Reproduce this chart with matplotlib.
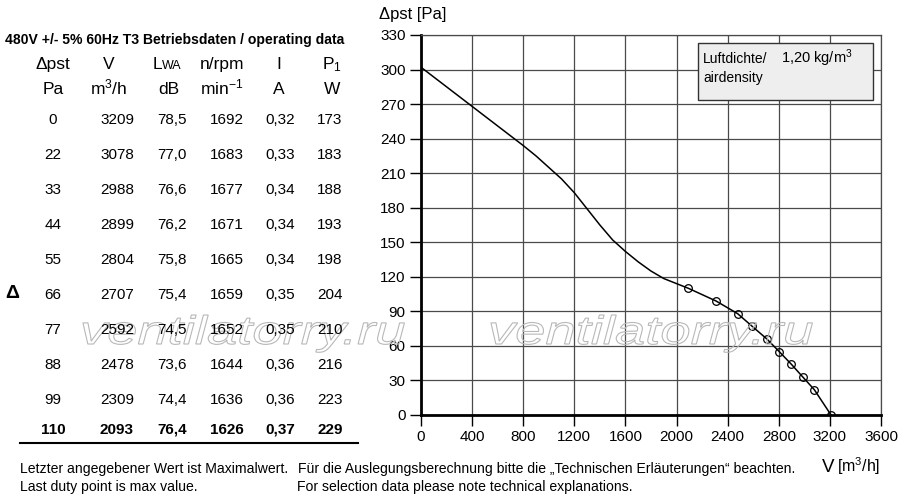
import matplotlib
matplotlib.use('Agg')
import matplotlib.pyplot as plt
from matplotlib.textpath import TextPath
from matplotlib.patches import PathPatch, Rectangle
from matplotlib.font_manager import FontProperties
from matplotlib.transforms import Affine2D
from matplotlib.lines import Line2D

plt.rcParams['font.family'] = ['Liberation Sans', 'DejaVu Sans']
plt.rcParams['mathtext.fontset'] = 'custom'
plt.rcParams['mathtext.rm'] = 'Liberation Sans'
plt.rcParams['mathtext.it'] = 'Liberation Sans:italic'
plt.rcParams['mathtext.bf'] = 'Liberation Sans:bold'

# operating data table
dp = [0, 22, 33, 44, 55, 66, 77, 88, 99, 110]
flow = [3209, 3078, 2988, 2899, 2804, 2707, 2592, 2478, 2309, 2093]
lwa = ['78,5', '77,0', '76,6', '76,2', '75,8', '75,4', '74,5', '73,6', '74,4', '76,4']
rpm = [1692, 1683, 1677, 1671, 1665, 1659, 1652, 1644, 1636, 1626]
amps = ['0,32', '0,33', '0,34', '0,34', '0,34', '0,35', '0,35', '0,36', '0,36', '0,37']
power = [173, 183, 188, 193, 198, 204, 210, 216, 223, 229]

# fan curve (left part) + the duty points
curve_v = [0, 400, 800, 900, 1000, 1100, 1200, 1300, 1400, 1500, 1600, 1700, 1800, 1900,
           2093, 2309, 2478, 2592, 2707, 2804, 2899, 2988, 3078, 3209]
curve_p = [302, 268, 234, 225, 215, 205, 193, 179, 165, 152, 142, 133, 125, 118.5,
           110, 99, 88, 77, 66, 55, 44, 33, 22, 0]

W, H = 900, 500


def fx(x):
    return x / W


def fy(y):
    return 1 - y / H


fig = plt.figure(figsize=(9, 5), dpi=100)

ax = fig.add_axes([421 / W, 85 / H, 460 / W, 380 / H])
ax.set_xlim(0, 3600)
ax.set_ylim(0, 330)
ax.set_xticks(range(0, 3601, 400))
ax.set_yticks(range(0, 331, 30))
ax.set_axisbelow(True)
ax.grid(True, color='#4a4a4a', lw=0.9)
for s in ['top', 'right']:
    ax.spines[s].set_color('#4a4a4a')
    ax.spines[s].set_linewidth(0.9)
for s in ['left', 'bottom']:
    ax.spines[s].set_linewidth(2)
ax.tick_params(direction='out', length=8, width=1, labelsize=11, pad=3)

ax.plot(curve_v, curve_p, color='k', lw=1.1, zorder=3)
ax.plot(flow, dp, 'o', mfc='none', mec='k', ms=5.5, mew=0.9, zorder=4)

# axis titles
fig.text(fx(379), fy(15), 'Δpst [Pa]', fontsize=12, ha='left', va='center')
fig.text(fx(822), fy(472), 'V', fontsize=13.5, ha='left', va='baseline')
fig.text(fx(837), fy(472), '[m$^3$/h]', fontsize=11.5, ha='left', va='baseline')

# air density box
fig.add_artist(Rectangle((fx(698), fy(100)), 175 / W, 57 / H, transform=fig.transFigure,
                         facecolor='#eeeeee', edgecolor='#333333', lw=1, zorder=2))
fig.text(fx(703), fy(63), 'Luftdichte/', fontsize=10, ha='left', va='baseline', zorder=3)
fig.text(fx(781), fy(63), '1,20 kg/m$^3$', fontsize=10.5, ha='left', va='baseline', zorder=3)
fig.text(fx(703), fy(82), 'airdensity', fontsize=10, ha='left', va='baseline', zorder=3)

# table
fig.text(fx(5), fy(44), '480V +/- 5% 60Hz T3 Betriebsdaten / operating data',
         fontsize=10.1, fontweight='bold', ha='left', va='baseline')
head_x = [53, 109, 169, 222, 279, 332]
fig.text(fx(head_x[0]), fy(69), 'Δpst', fontsize=12.5, ha='center', va='baseline')
fig.text(fx(head_x[1]), fy(69), 'V', fontsize=12.5, ha='center', va='baseline')
fig.text(fx(153), fy(69), 'L', fontsize=12.5, ha='left', va='baseline')
fig.text(fx(162), fy(69), 'WA', fontsize=9, ha='left', va='baseline')
fig.text(fx(head_x[3]), fy(69), 'n/rpm', fontsize=12.5, ha='center', va='baseline')
fig.text(fx(head_x[4]), fy(69), 'I', fontsize=12.5, ha='center', va='baseline')
fig.text(fx(head_x[5]), fy(69), 'P$_1$', fontsize=12.5, ha='center', va='baseline')
units = ['Pa', 'm$^3$/h', 'dB', 'min$^{-1}$', 'A', 'W']
for x, u in zip(head_x, units):
    fig.text(fx(x), fy(94), u, fontsize=12.5, ha='center', va='baseline')

col_x = [53, 117, 172, 227, 280, 330]
for i in range(len(dp)):
    y = 119.5 + 35.1 * i if i < 9 else 430
    bold = 'bold' if i == len(dp) - 1 else 'normal'
    row = [str(dp[i]), str(flow[i]), lwa[i], str(rpm[i]), amps[i], str(power[i])]
    for x, t in zip(col_x, row):
        fig.text(fx(x), fy(y), t, fontsize=11, fontweight=bold, ha='center', va='center')

fig.text(fx(12), fy(293), 'Δ', fontsize=14, fontweight='bold', ha='center', va='center')
fig.add_artist(Line2D([fx(20), fx(358)], [fy(443), fy(443)], transform=fig.transFigure,
                      color='k', lw=1.5))

# footnotes
fig.text(fx(20), fy(473), 'Letzter angegebener Wert ist Maximalwert.', fontsize=10.1,
         ha='left', va='baseline')
fig.text(fx(20), fy(491), 'Last duty point is max value.', fontsize=10.1,
         ha='left', va='baseline')
fig.text(fx(298), fy(473),
         'Für die Auslegungsberechnung bitte die \u201eTechnischen Erläuterungen\u201c beachten.',
         fontsize=10.1, ha='left', va='baseline')
fig.text(fx(297), fy(491), 'For selection data please note technical explanations.',
         fontsize=10.1, ha='left', va='baseline')

# watermark (outlined text)
wm_font = FontProperties(family='Liberation Sans', style='italic')
for x0 in [80, 488]:
    tp = TextPath((0, 0), 'ventilatorry.ru', size=40, prop=wm_font)
    tr = Affine2D().scale(1.36 / 100, 1 / 100).translate(x0 / 100, (H - 344) / 100) + fig.dpi_scale_trans
    fig.add_artist(PathPatch(tp, transform=tr, facecolor='none', edgecolor='#b8b8b8', lw=0.8, zorder=1))

fig.savefig('out.png', dpi=100)
